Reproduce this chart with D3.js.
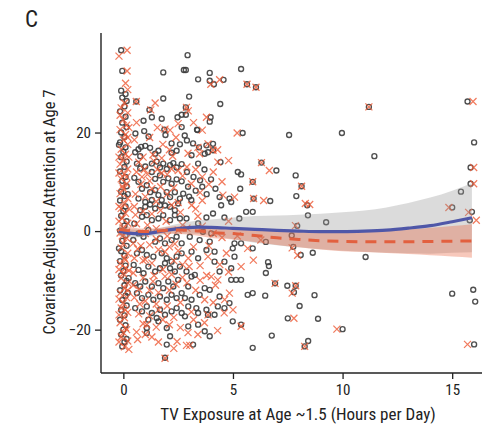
<!DOCTYPE html>
<html><head><meta charset="utf-8">
<script src="https://cdn.jsdelivr.net/npm/d3@7"></script>
<style>
html,body{margin:0;padding:0;background:#fff;}
text{font-family:"Liberation Sans Narrow","Arial Narrow","Roboto Condensed","DejaVu Sans Condensed",sans-serif;}
</style></head><body>
<svg id="chart" width="482" height="428"></svg>
<script>
(function(){
const panelLabel = "C";
const xTitle = "TV Exposure at Age ~1.5 (Hours per Day)";
const yTitle = "Covariate-Adjusted Attention at Age 7";
const xTicks = [0, 5, 10, 15];
const yTicks = [-20, 0, 20];

// gray open circles
const circles = [
[-0.1,36.7],[-0.05,32.5],[-0.1,28.5],[0.1,27.8],[-0.05,27.1],[0.15,26.4],[0.05,25.3],[-0.15,24.3],[0.1,23.2],[-0.05,22.0],[0.15,21.1],[-0.1,20.0],[0.05,19.1],[-0.15,18.0],[0.1,17.0],[0,16.1],[-0.1,15.0],[0.15,14.1],[0.05,13.0],[-0.15,12.1],[0.1,11.0],[-0.05,10.2],[0.15,9.1],[-0.1,8.0],[0.05,7.1],[-0.15,6.2],[0.1,5.0],[0,4.1],[-0.1,3.1],[0.15,2.0],[0.05,1.1],[-0.15,0.1],[0.1,-0.9],[-0.05,-2.0],[0.15,-3.0],[-0.1,-4.1],[0.05,-5.0],[-0.15,-6.1],[0.1,-7.0],[0,-8.1],[-0.1,-9.0],[0.15,-10.1],[0.05,-11.0],[-0.15,-12.0],[0.1,-13.1],[-0.05,-14.0],[0.15,-15.1],[-0.1,-16.0],[0.05,-17.1],[-0.15,-18.0],[0.1,-19.1],[0,-20.0],[-0.1,-21.0],[0.15,-21.9],[0.05,-22.5],[-0.05,-23.4],[0.2,-12.5],[-0.2,-3.5],[0.2,7.5],[-0.2,17.5],
[0.59,26.3],[1.82,32.2],[2.76,32.7],[1.82,26.9],[1.19,24.6],[1.3,23.1],[0.92,22.4],[1.75,22.8],[2.47,23.1],[2.66,23.6],[2.85,25.1],[1.15,19.2],[1.87,20.6],[1.92,19.5],[2.66,21.1],[2.8,19.4],[2.9,18.4],[2.2,17.8],[2.2,15.9],[2.43,16.3],[2.58,17.6],[0.54,16.0],[0.69,16.6],[0.81,17.1],[1.0,17.3],[1.22,16.9],[1.45,15.7],[1.6,16.3],[0.77,15.2],[0.62,13.7],[0.77,12.7],[1.0,13.1],[1.3,13.7],[1.52,14.1],[1.67,12.9],[1.82,13.7],[1.98,12.6],[2.13,13.4],[2.28,13.8],[2.43,12.9],[2.66,13.6],[0.69,10.0],[1.3,12.0],[1.45,10.6],[1.67,11.3],[1.82,10.0],[2.05,10.7],[2.2,9.6],[2.43,10.5],[2.66,10.1],[0.85,8.6],[1.07,9.3],[1.22,7.9],[1.45,8.3],[1.6,7.3],[1.75,6.3],[1.98,7.9],[2.13,6.9],[2.35,7.9],[2.58,6.6],[2.73,7.6],[0.69,6.6],[1.0,5.9],[1.3,6.3],[0.5,10.8],[0.55,19.8],[0.95,20.3],
[0.77,4.24],[1.0,4.92],[1.22,5.4],[1.45,4.58],[1.67,5.25],[1.9,5.2],[2.13,4.92],[2.35,4.24],[2.5,5.59],[0.85,2.9],[1.07,3.23],[1.3,2.22],[1.6,2.56],[1.82,3.23],[2.13,2.22],[2.35,3.23],[2.58,2.56],[0.69,-0.47],[0.92,-1.14],[1.14,0.2],[1.45,-2.15],[1.67,-1.48],[1.9,-2.49],[2.2,-1.82],[2.43,-1.14],[2.66,-2.49],[0.62,-4.51],[0.85,-3.84],[1.07,-4.85],[1.37,-5.19],[1.75,-4.51],[1.98,-5.52],[2.2,-6.2],[2.43,-5.19],[2.66,-4.51],[0.47,-6.87],[0.69,-7.88],[0.92,-8.55],[1.14,-7.21],[1.45,-8.21],[1.67,-7.54],[1.9,-6.53],[2.13,-7.54],[2.35,-8.21],[2.58,-7.21],[0.24,-9.56],[0.54,-10.57],[0.77,-11.25],[1.0,-10.24],[1.3,-11.25],[1.6,-10.57],[1.82,-11.58],[2.05,-10.24],[2.28,-11.25],[2.5,-9.9],[0.62,-12.59],[0.85,-13.6],[1.14,-12.93],[1.37,-13.94],[1.67,-13.27],[1.98,-13.94],[2.2,-12.93],[2.43,-13.6],[2.66,-12.59],[0.54,-15.62],[0.85,-16.3],[1.07,-15.29],[1.3,-16.63],[1.52,-17.64],[1.67,-15.96],[1.9,-16.97],[2.2,-16.3],[2.43,-15.62],[2.66,-16.63],[1.14,-17.98],[1.6,-18.32],[1.07,-19.66],[1.07,-20.67],[1.98,-19.66],[2.13,-21.35],[1.98,-23.03],[1.9,-25.7],[0.45,-1.8],[0.5,1.5],
[2.93,35.7],[2.85,32.7],[3.94,32.1],[3.41,30.8],[3.94,30.5],[4.13,29.8],[4.57,30.7],[3.0,27.3],[4.42,25.8],[2.85,23.6],[3.98,23.1],[3.94,22.2],[3.38,20.5],[3.18,17.8],[4.09,17.7],[3.71,15.7],[3.86,16.0],[4.09,16.4],[3.11,15.4],[4.43,14.0],[3.41,13.7],[3.1,6.3],[4.39,6.9],[4.84,6.6],[4.92,5.9],[2.9,12.0],[3.2,11.0],[3.5,10.3],[2.95,9.0],[3.3,8.2],[3.6,9.0],[3.8,7.5],[4.0,10.5],[3.7,12.5],[4.2,8.6],[3.0,7.0],[3.45,17.0],[3.79,17.4],[3.36,20.6],
[5.37,32.9],[5.64,29.8],[6.05,29.2],[5.44,19.9],[5.22,12.0],[5.37,11.5],[5.9,10.0],[6.3,13.9],[5.33,8.6],[5.94,6.6],
[4.46,5.25],[5.6,3.91],[5.9,3.91],[5.29,2.56],[4.61,2.76],[4.09,3.57],[3.79,2.76],[3.41,1.55],[2.88,2.56],[3.63,-0.13],[4.01,-0.47],[3.03,-1.14],[3.48,-1.82],[3.94,-2.15],[5.07,-2.49],[5.37,-2.49],[3.11,-4.17],[3.79,-3.84],[4.16,-4.17],[4.99,-3.5],[5.9,-3.5],[3.41,-5.52],[4.16,-6.2],[4.61,-6.2],[5.07,-5.19],[2.88,-8.21],[3.26,-8.89],[4.39,-8.21],[4.92,-7.54],[3.11,-9.23],[4.92,-9.9],[5.14,-9.9],[5.37,-9.9],[2.96,-11.25],[3.71,-11.58],[3.94,-11.92],[4.39,-13.27],[2.81,-13.6],[3.11,-13.94],[3.48,-12.93],[5.67,-12.93],[5.9,-12.59],[2.96,-15.29],[3.33,-15.62],[3.79,-15.96],[4.31,-15.29],[4.61,-15.62],[4.84,-14.61],[2.81,-17.3],[3.41,-16.63],[3.86,-16.97],[4.16,-16.97],[4.99,-18.32],[5.37,-18.99],[2.96,-19.33],[3.41,-18.99],[3.71,-20.33],[3.94,-21.35],[3.18,-23.03],[5.9,-23.7],
[11.2,25.2],[15.7,26.3],[7.56,19.5],[9.97,19.9],[16.0,18.0],[11.45,15.2],[6.98,12.3],[7.86,11.3],[8.13,9.1],[7.89,7.1],[15.84,12.9],[15.84,9.6],[15.4,8.0],[6.7,6.1],[8.39,5.25],[8.42,3.2],[9.25,1.8],[7.93,1.07],[7.68,-0.9],[6.5,-2.2],[7.75,-3.2],[8.09,-4.85],[8.64,-4.4],[11.05,-5.25],[15.0,4.8],[15.9,3.9],[15.8,2.2],[6.6,-6.3],[6.64,-7.1],[6.5,-8.5],[6.92,-10.6],[7.48,-11.1],[7.86,-11.1],[7.78,-12.4],[6.47,-13.1],[8.72,-13.0],[8.04,-15.2],[7.5,-17.7],[8.88,-17.8],[10.0,-19.9],[6.77,-21.2],[8.43,-22.3],[8.27,-23.4],[15.0,-12.7],[15.96,-11.9],[16.05,-14.3],[16.0,-23.0]
];

// red crosses
const crosses = [
[0.17,36.7],[0.17,32.5],[0.2,28.7],[0.05,26.0],[-0.1,25.0],[0.2,24.0],[0,22.6],[0.15,21.5],[-0.15,20.6],[0.1,19.6],[0,18.5],[0.2,17.6],[-0.1,16.6],[0.1,15.6],[0,14.5],[-0.15,13.6],[0.2,12.6],[0.05,11.6],[-0.1,10.6],[0.15,9.6],[0,8.6],[-0.15,7.6],[0.2,6.6],[0.05,5.6],[-0.1,4.6],[0.1,3.6],[-0.05,2.6],[0.2,1.6],[0,0.6],[-0.15,-0.4],[0.15,-1.4],[0,-2.5],[-0.1,-3.4],[0.2,-4.5],[0.05,-5.5],[-0.15,-6.6],[0.1,-7.5],[0,-8.6],[-0.1,-9.6],[0.2,-10.5],[0.05,-11.6],[-0.15,-12.6],[0.15,-13.5],[0,-14.6],[-0.1,-15.6],[0.2,-16.5],[0.05,-17.6],[-0.15,-18.6],[0.1,-19.6],[0,-20.6],[-0.1,-21.5],[0.2,-22.3],[0.05,-23.5],[-0.05,-1.0],[0.1,-5.9],[-0.05,9.1],[0.1,-16.0],[-0.2,2.0],
[-0.2,35.5],[0.1,30.0],[-0.15,23.5],[0.2,19.0],[-0.2,15.0],[0.15,11.0],[-0.2,5.0],[0.15,-0.2],[-0.2,-7.8],[0.2,-12.0],[-0.2,-17.0],[0.15,-20.0],[-0.2,-22.5],[0.25,-24.0],[0.25,4.5],[0.25,-8.0],[-0.2,11.8],[0.25,21.0],[-0.2,-13.8],[0.25,15.0],
[0.59,26.3],[1.25,24.6],[1.9,20.7],[2.13,20.5],[1.8,17.6],[2.96,24.4],
[0.5,18.5],[0.9,15.0],[1.35,15.5],[1.75,14.8],[2.25,15.2],[0.6,12.0],[1.1,11.5],[1.55,12.5],[2.0,11.5],[2.5,12.3],[0.8,9.5],[1.2,10.2],[1.7,9.0],[2.3,8.8],[2.7,11.2],[0.55,7.5],[1.0,7.0],[1.5,6.0],[2.0,7.5],[2.5,5.8],[0.6,22.0],[1.55,21.0],[2.4,19.0],
[0.5,5.0],[0.9,4.0],[1.3,3.5],[1.7,4.2],[2.2,5.3],[2.6,3.8],[0.6,1.5],[1.0,-0.5],[1.5,0.5],[2.0,-1.0],[2.5,0.2],[0.45,-2.5],[0.8,-3.0],[1.2,-2.8],[1.6,-3.8],[2.1,-3.2],[2.5,-4.0],[0.5,-5.5],[0.9,-6.0],[1.3,-6.5],[1.8,-7.8],[2.3,-6.0],[2.7,-6.8],[0.45,-8.5],[0.9,-9.5],[1.4,-9.0],[1.9,-9.2],[2.4,-10.8],[0.7,-11.8],[1.2,-12.0],[1.6,-12.5],[2.1,-12.0],[2.6,-14.5],[0.5,-13.5],[1.0,-14.2],[1.5,-14.8],[2.0,-15.2],[0.7,-16.8],[1.2,-17.2],[1.8,-18.0],[2.3,-17.5],[0.9,-18.8],[1.5,-19.5],[2.1,-19.0],[1.3,-21.5],[0.6,-20.5],[1.07,-19.0],[1.9,-25.8],[1.0,-21.0],
[0.65,-22.0],[1.6,-22.5],[2.3,-23.8],[0.75,-14.8],[1.35,-10.2],[2.2,-8.8],[0.65,-3.6],[1.1,1.2],[1.95,2.0],[2.7,1.2],[0.55,3.3],[1.5,-1.6],[2.35,-2.6],[1.0,-5.8],[1.9,-4.2],[2.7,-9.4],[0.45,-11.0],[1.6,-16.0],[2.6,-19.6],[2.45,-22.4],[3.4,-21.0],[3.7,-18.6],[4.3,-20.2],[3.1,-16.4],[3.5,-10.0],[3.8,-9.0],[4.8,-8.3],[3.0,-7.2],[4.4,-6.8],[3.9,-3.0],[5.2,-1.0],[3.4,3.0],[2.9,0.6],[4.8,2.0],[3.6,6.2],[1.4,14.2],[0.7,14.0],[2.1,16.5],[1.2,19.0],[2.5,21.8],[1.45,26.0],[3.2,22.0],[0.85,11.0],[1.75,11.8],[2.2,12.6],[1.3,8.6],[0.95,12.5],
[4.39,30.7],[3.99,29.8],[5.64,29.8],[6.05,29.2],[2.88,25.1],[3.79,23.1],[3.6,20.5],[5.19,19.9],[3.86,17.7],[3.48,15.7],[4.31,14.0],[5.9,10.0],[5.07,6.9],[5.94,6.6],[2.9,13.0],[3.3,12.5],[3.6,11.0],[3.9,9.5],[3.1,9.6],[3.5,7.8],[4.1,12.0],[4.5,10.0],[2.95,15.8],[3.4,17.0],[4.3,16.5],[4.8,14.3],[4.09,16.4],[6.3,13.9],
[3.11,5.25],[6.27,-1.82],[2.96,-5.52],[3.86,-5.19],[5.37,-7.21],[4.01,-9.23],[4.31,-9.9],[4.84,-12.59],[3.71,-13.94],[3.3,4.5],[3.6,1.0],[4.1,-0.5],[4.5,-1.3],[3.2,-3.2],[4.7,-4.5],[3.5,-7.0],[2.9,-10.5],[3.3,-12.0],[4.1,-14.5],[4.6,-16.6],[3.2,-18.0],[2.95,-20.6],[4.2,-11.0],[5.0,-16.0],[4.62,-13.9],[5.37,-19.3],[3.86,-17.0],[3.03,-23.2],[5.67,-3.5],[5.93,-5.9],[4.54,7.3],[2.88,-23.2],
[11.2,25.2],[15.95,26.3],[6.66,12.3],[8.13,9.1],[6.4,6.2],[8.3,5.6],[8.5,5.4],[7.85,1.1],[7.7,-3.4],[7.95,-4.9],[14.85,4.8],[15.75,3.8],[16.1,2.2],[15.98,12.9],[15.98,9.6],[6.92,-10.6],[7.86,-11.1],[7.7,-12.6],[7.78,-17.7],[9.74,-19.9],[8.27,-23.4],[15.7,-23.0]
];

// smooth fits with confidence bands
const fitX      = [-0.2, 0.5, 1, 1.5, 2, 2.5, 3, 3.5, 4, 5, 6, 7, 8, 9, 10, 11, 12, 13, 14, 15, 15.9];
const blueFit   = [0.0,-0.5,-0.5,-0.2,0.2,0.5,0.7,0.8,0.75,0.55,0.35,0.15,0.0,-0.1,-0.1,0.0,0.2,0.6,1.1,1.9,2.7];
const blueLower = [-1.0,-1.3,-1.2,-0.9,-0.6,-0.5,-0.5,-0.6,-0.85,-1.65,-2.35,-2.85,-3.3,-3.7,-4.0,-4.2,-4.4,-4.5,-4.6,-4.4,-4.3];
const blueUpper = [1.0,0.3,0.2,0.5,1.0,1.5,1.9,2.2,2.35,2.75,3.05,3.15,3.3,3.5,3.8,4.2,4.8,5.7,6.8,8.2,9.7];
const redFit    = [0.3,0.0,-0.1,0.0,0.15,0.2,0.15,0.0,-0.3,-0.5,-0.9,-1.35,-1.7,-1.95,-2.1,-2.15,-2.15,-2.15,-2.1,-2.05,-2.0];
const redLower  = [-0.9,-0.7,-0.7,-0.6,-0.55,-0.6,-0.75,-1.0,-1.4,-1.7,-2.2,-2.8,-3.3,-3.75,-4.1,-4.25,-4.45,-4.65,-4.9,-5.15,-5.4];
const redUpper  = [1.5,0.7,0.5,0.6,0.85,1.0,1.05,1.0,0.8,0.7,0.4,0.1,-0.1,-0.15,-0.1,-0.05,0.15,0.35,0.7,1.05,1.4];

const svg = d3.select("#chart");
const mL = 101, mR = 482, mT = 33, mB = 373;
const x = d3.scaleLinear().domain([-1.02, 16.36]).range([mL, mR]);
const y = d3.scaleLinear().domain([-28.8, 40.2]).range([mB, mT]);

const gp = svg.append("g");
gp.selectAll("circle").data(circles).join("circle")
  .attr("cx", d => x(d[0])).attr("cy", d => y(d[1])).attr("r", 2.5)
  .attr("fill", "none").attr("stroke", "#3c3c3c").attr("stroke-width", 1.35).attr("stroke-opacity", 0.9);
const s = 3.5;
gp.selectAll("path.cx").data(crosses).join("path").attr("class","cx")
  .attr("d", d => { const cx = x(d[0]), cy = y(d[1]);
    return `M${cx-s},${cy-s}L${cx+s},${cy+s}M${cx-s},${cy+s}L${cx+s},${cy-s}`; })
  .attr("stroke", "#ee5a36").attr("stroke-width", 1.25).attr("stroke-opacity", 0.8).attr("fill","none");

const idx = d3.range(fitX.length);
const area = (lo, hi) => d3.area().curve(d3.curveMonotoneX)
  .x(i => x(fitX[i])).y0(i => y(lo[i])).y1(i => y(hi[i]));
svg.append("path").datum(idx).attr("d", area(blueLower, blueUpper)).attr("fill", "#999").attr("fill-opacity", 0.35);
svg.append("path").datum(idx).attr("d", area(redLower, redUpper)).attr("fill", "#e8603c").attr("fill-opacity", 0.35);
const line = arr => d3.line().curve(d3.curveMonotoneX).x(i => x(fitX[i])).y(i => y(arr[i]));
svg.append("path").datum(idx).attr("d", line(blueFit)).attr("fill","none").attr("stroke","#4f57a8").attr("stroke-width",3.2);
svg.append("path").datum(idx).attr("d", line(redFit)).attr("fill","none").attr("stroke","#e2603f").attr("stroke-width",3).attr("stroke-dasharray","11,8");

const xAxis = svg.append("g").attr("transform", `translate(0,${mB})`)
  .call(d3.axisBottom(x).tickValues(xTicks).tickSize(6).tickPadding(5).tickFormat(d3.format("d")));
const yAxis = svg.append("g").attr("transform", `translate(${mL},0)`)
  .call(d3.axisLeft(y).tickValues(yTicks).tickSize(6).tickPadding(4).tickFormat(d => d < 0 ? "\u2212" + Math.abs(d) : d));
[xAxis, yAxis].forEach(g => {
  g.select(".domain").attr("stroke", "#222").attr("stroke-width", 1.4);
  g.selectAll(".tick line").attr("stroke", "#222").attr("stroke-width", 1.3);
  g.selectAll(".tick text").attr("fill", "#222").style("font-size", "15px");
});
xAxis.select(".domain").attr("d", `M${mL},0H${mR}`);
yAxis.select(".domain").attr("d", `M0,${mT}V${mB}`);

svg.append("text").attr("x", 298).attr("y", 420).attr("text-anchor", "middle")
  .attr("fill", "#222").style("font-size", "17px").text(xTitle);
svg.append("text").attr("transform", `translate(55,212) rotate(-90)`).attr("text-anchor", "middle")
  .attr("fill", "#222").style("font-size", "16.5px").text(yTitle);
svg.append("text").attr("x", 25).attr("y", 27).attr("fill", "#222").style("font-size", "23px").text(panelLabel);
})();
</script>
</body></html>
